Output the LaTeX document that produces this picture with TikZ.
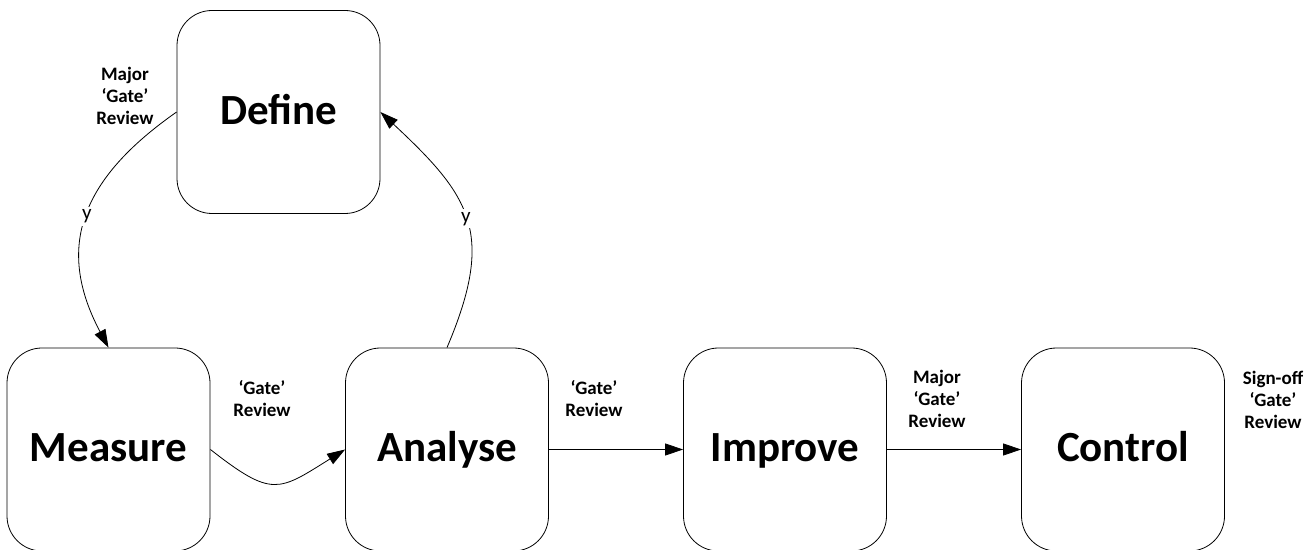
\documentclass[tikz,border=0pt]{standalone}
\usepackage{fontspec}
\setmainfont{Carlito}
\usepackage{tikz}
\usetikzlibrary{arrows.meta,positioning}

\begin{document}
\begin{tikzpicture}[
    x=1pt, y=1pt,
    phase/.style={rectangle, rounded corners=35pt, draw, line width=0.8pt, minimum width=203pt, minimum height=203pt, text height=30pt, text depth=5pt, font=\fontsize{43}{50}\selectfont\bfseries},
    gate/.style={align=center, font=\fontsize{19}{22}\selectfont\bfseries},
    flow/.style={->, >={Triangle[length=18pt,width=12pt]}, line width=0.8pt},
    decision/.style={fill=white, inner sep=3pt, font=\fontsize{21}{24}\selectfont},
]
\useasboundingbox (0,0) rectangle (1312,549);

% Phases of the cycle
\node[phase] (define) at (278.5,437) {Define};
\node[phase] (measure) at (108.5,99.5) {Measure};
\node[phase] (analyse) at (447,99.5) {Analyse};
\node[phase] (improve) at (785,99.5) {Improve};
\node[phase] (control) at (1123,99.5) {Control};

% Gate reviews
\node[gate] (g1) at (125,453) {Major\\‘Gate’\\Review};
\node[gate] (g2) at (262,150) {‘Gate’\\Review};
\node[gate] (g3) at (594,150) {‘Gate’\\Review};
\node[gate] (g4) at (937,150) {Major\\‘Gate’\\Review};
\node[gate] (g5) at (1273,149) {Sign-off\\‘Gate’\\Review};

% Flow between phases
\draw[flow] (define.west) to[out=215, in=118, looseness=1.2] node[decision] {y} (measure.north);
\draw[flow] (measure.east) to[out=-38, in=212, looseness=1.5] (analyse.west);
\draw[flow] (analyse.north) to[out=67, in=317, looseness=1.3] node[decision] {y} (define.east);
\draw[flow] (analyse) -- (improve);
\draw[flow] (improve) -- (control);

\end{tikzpicture}
\end{document}
